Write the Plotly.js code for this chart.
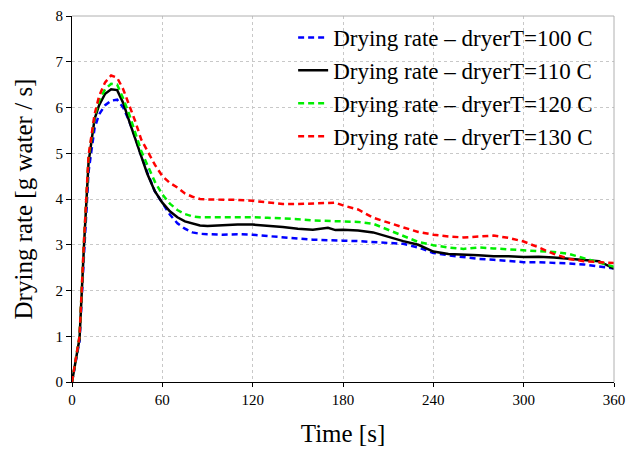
<!DOCTYPE html>
<html>
<head>
<meta charset="utf-8">
<script src="https://cdn.plot.ly/plotly-3.0.1.min.js"></script>
<style>html,body{margin:0;padding:0;background:#fff;}#chart{width:627px;height:451px;}</style>
</head>
<body>
<div id="chart"></div>
<script>
var time = [0,5,8,11,15,18,22,26,30,34,38,42,46,50,55,60,65,70,75,80,85,90,100,110,120,130,140,150,160,170,175,180,190,200,210,220,230,240,250,260,270,280,290,300,310,320,330,340,350,360];

var rate100 = [0,0.9,2.8,4.6,5.55,5.85,6.05,6.15,6.17,6.0,5.7,5.35,4.95,4.58,4.17,3.9,3.66,3.47,3.35,3.27,3.24,3.23,3.22,3.23,3.22,3.19,3.16,3.13,3.11,3.1,3.09,3.09,3.08,3.06,3.04,3.02,2.94,2.82,2.77,2.73,2.69,2.67,2.64,2.62,2.62,2.61,2.59,2.57,2.53,2.48];

var rate110 = [0,0.95,3.0,4.8,5.75,6.05,6.3,6.4,6.38,6.1,5.7,5.3,4.9,4.55,4.17,3.92,3.73,3.6,3.51,3.46,3.42,3.41,3.43,3.44,3.44,3.42,3.39,3.35,3.33,3.37,3.32,3.33,3.31,3.27,3.17,3.08,3.0,2.85,2.8,2.79,2.77,2.75,2.75,2.73,2.74,2.72,2.69,2.67,2.64,2.48];

var rate120 = [0,1.0,3.1,4.9,5.8,6.15,6.4,6.52,6.5,6.2,5.85,5.45,5.05,4.75,4.38,4.1,3.9,3.76,3.67,3.62,3.6,3.6,3.6,3.61,3.6,3.59,3.58,3.56,3.53,3.52,3.52,3.51,3.5,3.46,3.33,3.2,3.06,2.99,2.94,2.91,2.94,2.92,2.9,2.89,2.87,2.84,2.8,2.71,2.62,2.52];

var rate130 = [0,1.0,3.1,4.95,5.85,6.25,6.55,6.7,6.65,6.4,6.05,5.7,5.3,5.05,4.75,4.5,4.35,4.25,4.12,4.05,4.0,3.99,3.99,3.98,3.96,3.93,3.89,3.89,3.9,3.91,3.92,3.86,3.77,3.59,3.48,3.38,3.28,3.22,3.18,3.16,3.18,3.2,3.15,3.07,2.94,2.8,2.69,2.64,2.62,2.6];

var seriesNames = ["Drying rate \u2013 dryerT=100 C","Drying rate \u2013 dryerT=110 C","Drying rate \u2013 dryerT=120 C","Drying rate \u2013 dryerT=130 C"];
var xTicks = [0,60,120,180,240,300,360];
var yTicks = [0,1,2,3,4,5,6,7,8];

var dashPat = "6px,4px";
var traces = [
  {x: time, y: rate100, name: seriesNames[0], legendgroup: "a", line: {color: "#0000ff", width: 2.5, dash: dashPat}},
  {x: time, y: rate110, name: seriesNames[1], legendgroup: "b", line: {color: "#000000", width: 2.5}},
  {x: time, y: rate120, name: seriesNames[2], legendgroup: "c", line: {color: "#00ee00", width: 2.5, dash: dashPat}},
  {x: time, y: rate130, name: seriesNames[3], legendgroup: "d", line: {color: "#ff0000", width: 2.5, dash: dashPat}}
];
traces.forEach(function(t){ t.type = "scatter"; t.mode = "lines"; });

var fam = "Liberation Serif, Times New Roman, serif";

var layout = {
  width: 627, height: 451,
  margin: {l: 72, r: 13, t: 16, b: 69},
  paper_bgcolor: "#fff", plot_bgcolor: "#fff",
  font: {family: fam, color: "#000"},
  showlegend: true,
  legend: {
    x: 0.408, y: 1.0, xanchor: "left", yanchor: "top",
    bgcolor: "rgba(0,0,0,0)", borderwidth: 0,
    font: {family: fam, size: 23, color: "#000"},
    traceorder: "grouped", tracegroupgap: 0
  },
  xaxis: {
    range: [0, 360], tickvals: xTicks, ticktext: xTicks.map(String),
    showline: true, linecolor: "#000", linewidth: 1,
    ticks: "outside", ticklen: 4, tickcolor: "#000",
    showgrid: true, gridcolor: "#c8c8c8", griddash: "dot", gridwidth: 1,
    zeroline: false,
    tickfont: {family: fam, size: 15, color: "#000"},
    title: {text: "Time [s]", font: {family: fam, size: 25, color: "#000"}, standoff: 17}
  },
  yaxis: {
    range: [0, 8], tickvals: yTicks, ticktext: yTicks.map(String),
    showline: true, linecolor: "#000", linewidth: 1,
    ticks: "outside", ticklen: 5, tickcolor: "#000",
    showgrid: true, gridcolor: "#c8c8c8", griddash: "dot", gridwidth: 1,
    zeroline: false,
    tickfont: {family: fam, size: 15, color: "#000"},
    title: {text: "Drying rate [g water / s]", font: {family: fam, size: 25, color: "#000"}, standoff: 15}
  },
  shapes: [
    {type: "line", xref: "paper", yref: "paper", x0: 0, x1: 1, y0: 1, y1: 1, line: {color: "#b0b0b0", width: 1}},
    {type: "line", xref: "paper", yref: "paper", x0: 1, x1: 1, y0: 0, y1: 1, line: {color: "#b0b0b0", width: 1}}
  ]
};

Plotly.newPlot("chart", traces, layout, {displayModeBar: false, staticPlot: true});
</script>
</body>
</html>
